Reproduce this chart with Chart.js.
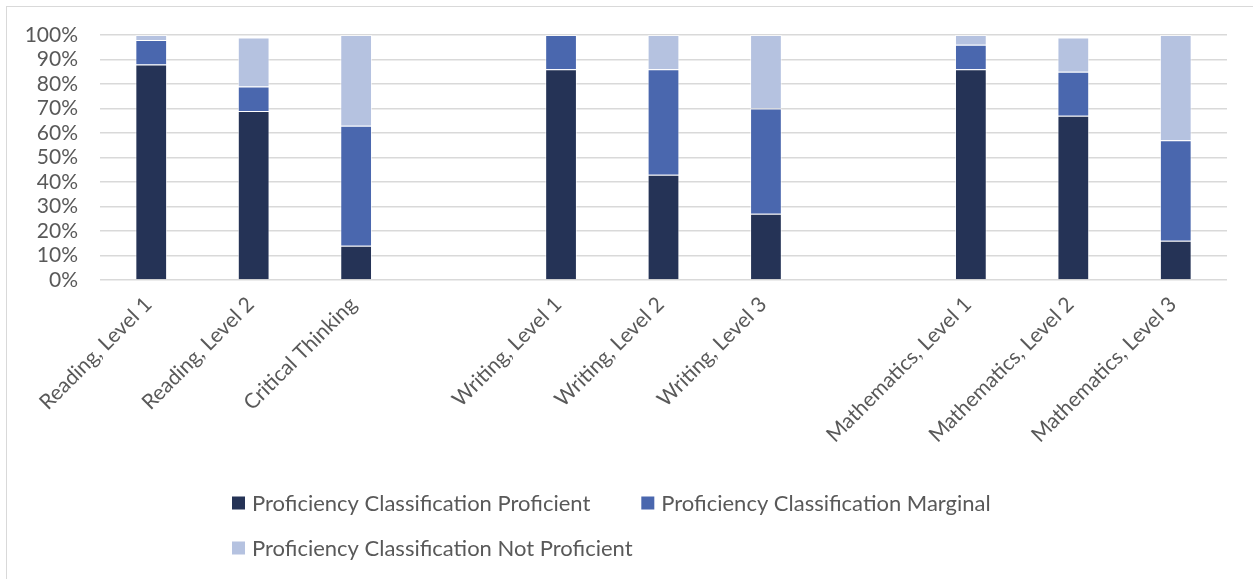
<!DOCTYPE html>
<html>
<head>
<meta charset="utf-8">
<script src="https://cdn.jsdelivr.net/npm/chart.js@4.4.0/dist/chart.umd.min.js"></script>
<style>
    html, body { margin: 0; padding: 0; background: #fff; overflow: hidden; }
    #frame { position: absolute; left: 6px; top: 6px; width: 1300px; height: 700px; border: 1px solid #d9d9d9; }
    #wrap { position: absolute; left: 0; top: 0; width: 1253px; height: 579px; }
</style>
</head>
<body>
<div id="frame"></div>
<div id="wrap"><canvas id="chart"></canvas></div>
<script>
'use strict';

var chart;

// empty strings are the gaps between subject groups
var categories = ['Reading, Level 1', 'Reading, Level 2', 'Critical Thinking', '',
    'Writing, Level 1', 'Writing, Level 2', 'Writing, Level 3', '',
    'Mathematics, Level 1', 'Mathematics, Level 2', 'Mathematics, Level 3'];

var proficient    = [88, 69, 14, null, 86, 43, 27, null, 86, 67, 16];
var marginal      = [10, 10, 49, null, 14, 43, 43, null, 10, 18, 41];
var notProficient = [2, 20, 37, null, 0, 14, 30, null, 4, 14, 43];

var seriesNames = ['Proficiency Classification Proficient',
    'Proficiency Classification Marginal',
    'Proficiency Classification Not Proficient'];

var yTicks = [0, 10, 20, 30, 40, 50, 60, 70, 80, 90, 100];

var FONT = 'Lato';
var TEXT = '#595959';

// legend drawn left-aligned and wrapped like the office one
var flowLegend = {
    id: 'flowLegend',
    afterDraw: function(c) {
        var ctx = c.ctx;
        var left = 232, x = left, y = 503;
        ctx.save();
        ctx.font = '22px ' + FONT;
        ctx.textBaseline = 'middle';
        c.data.datasets.forEach(function(ds) {
            var w = 13 + 7 + ctx.measureText(ds.label).width;
            if (x !== left && x + w > 1100) { x = left; y += 45; }
            ctx.fillStyle = ds.backgroundColor;
            ctx.fillRect(x, y - 6.5, 13, 13);
            ctx.fillStyle = TEXT;
            ctx.fillText(ds.label, x + 20, y + 1);
            x += w + 51;
        });
        ctx.restore();
    }
};

function dataset(label, data, color) {
    return {
        label: label,
        data: data,
        backgroundColor: color,
        borderColor: 'rgba(255,255,255,0.6)',
        borderWidth: 1,
        barPercentage: 0.31,
        categoryPercentage: 1
    };
}

chart = new Chart(document.getElementById('chart'), {
    type: 'bar',
    data: {
        labels: categories,
        datasets: [
            dataset(seriesNames[0], proficient, '#253356'),
            dataset(seriesNames[1], marginal, '#4a67ae'),
            dataset(seriesNames[2], notProficient, '#b5c2e0')
        ]
    },
    options: {
        responsive: true,
        maintainAspectRatio: false,
        animation: false,
        layout: { padding: { left: 10, right: 26, top: 35, bottom: 0 } },
        plugins: {
            legend: { display: false },
            tooltip: { enabled: false }
        },
        scales: {
            x: {
                stacked: true,
                grid: { display: false, drawTicks: false },
                border: { display: false },
                afterFit: function(scale) { scale.height = 299; },
                ticks: {
                    autoSkip: false,
                    maxRotation: 45,
                    minRotation: 45,
                    labelOffset: -3,
                    padding: 12,
                    color: TEXT,
                    font: { family: FONT, size: 21 }
                }
            },
            y: {
                stacked: true,
                min: 0,
                max: 100,
                afterFit: function(scale) { scale.width = 90; },
                afterBuildTicks: function(scale) {
                    scale.ticks = yTicks.map(function(v) { return { value: v }; });
                },
                grid: { color: '#d9d9d9', lineWidth: 1.5, drawTicks: false },
                border: { display: false },
                ticks: {
                    autoSkip: false,
                    padding: 22,
                    color: TEXT,
                    font: { family: FONT, size: 21 },
                    callback: function(v) { return v + '%'; }
                }
            }
        }
    },
    plugins: [flowLegend]
});
</script>
</body>
</html>
